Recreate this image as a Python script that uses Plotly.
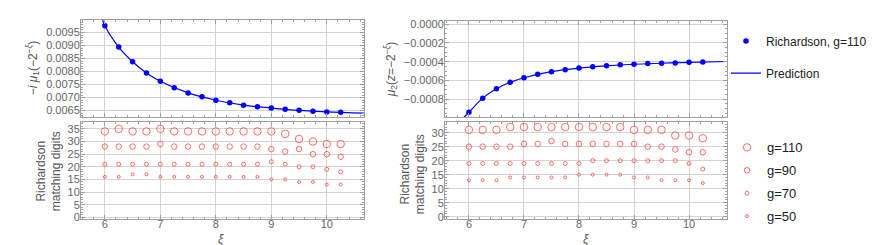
import plotly.graph_objects as go

xi = [6, 6.25, 6.5, 6.75, 7, 7.25, 7.5, 7.75, 8, 8.25, 8.5, 8.75, 9, 9.25, 9.5, 9.75, 10, 10.25]

mu1_rich = [0.00976, 0.00894, 0.00838, 0.00795, 0.00763, 0.00738, 0.00718, 0.00703, 0.00690,
            0.00680, 0.00671, 0.00665, 0.00660, 0.00655, 0.00651, 0.00648, 0.00645, 0.00644]
pred1_xi = [5.95, 6, 6.25, 6.5, 6.75, 7, 7.5, 8, 8.5, 9, 9.5, 10, 10.7]
pred1_mu = [0.01006, 0.00976, 0.00894, 0.00838, 0.00795, 0.00763, 0.00718, 0.00690, 0.00671,
            0.00660, 0.00651, 0.00645, 0.00640]

mu2_rich = [-0.000941, -0.000790, -0.000690, -0.000621, -0.000572, -0.000534, -0.000507, -0.000486,
            -0.000469, -0.000455, -0.000445, -0.000434, -0.000428, -0.000421, -0.000417, -0.000414,
            -0.000407, -0.000403]
pred2_xi = [5.9, 6, 6.25, 6.5, 6.75, 7, 7.5, 8, 8.5, 9, 9.5, 10, 10.7]
pred2_mu = [-0.00100, -0.000941, -0.000790, -0.000690, -0.000621, -0.000572, -0.000507, -0.000469,
            -0.000445, -0.000428, -0.000417, -0.000407, -0.000398]

digits1 = {
    "g=110": [34, 35, 34, 34, 35, 34, 34, 34, 34, 34, 34, 34, 34, 33, 31, 30, 29, 29],
    "g=90":  [28, 28, 28, 28, 29, 28, 28, 28, 28, 28, 28, 28, 27, 26, 27, 25, 25, 24],
    "g=70":  [21, 21, 21, 21, 21, 21, 21, 21, 21, 21, 21, 21, 22, 21, 20, 20, 19, 18],
    "g=50":  [16, 16, 17, 17, 16, 16, 16, 16, 16, 16, 16, 16, 15, 15, 14, 14, 13, 13],
}
digits2 = {
    "g=110": [31, 31, 31, 32, 32, 32, 32, 32, 32, 32, 32, 32, 31, 31, 31, 29, 29, 28],
    "g=90":  [25, 25, 25, 25, 26, 26, 27, 26, 26, 26, 26, 26, 26, 25, 25, 24, 23, 23],
    "g=70":  [19, 19, 19, 19, 19, 19, 19, 19, 19, 20, 20, 20, 20, 20, 20, 20, 19, 17],
    "g=50":  [13, 13, 13, 14, 14, 14, 14, 14, 15, 15, 15, 15, 14, 14, 13, 13, 13, 12],
}
circle_sizes = {"g=110": 7.5, "g=90": 5.5, "g=70": 4, "g=50": 3}

W, H = 877, 245
BLUE = "#0000ff"
RED = "rgba(255,60,60,0.75)"
FRAME = "#a0a0a0"
GRID = "#d4d4d4"
TICKC = "#666666"
FONT = "Liberation Sans, Arial, sans-serif"

fig = go.Figure()

fig.add_trace(go.Scatter(x=pred1_xi, y=pred1_mu, mode="lines", line=dict(color=BLUE, width=1.2, shape="spline"),
                         xaxis="x", yaxis="y", showlegend=False))
fig.add_trace(go.Scatter(x=xi, y=mu1_rich, mode="markers", marker=dict(color=BLUE, size=5.5),
                         xaxis="x", yaxis="y", name="Richardson, g=110", legend="legend", legendgroup="a"))
fig.add_trace(go.Scatter(x=pred2_xi, y=pred2_mu, mode="lines", line=dict(color=BLUE, width=1.2, shape="spline"),
                         xaxis="x3", yaxis="y3", name="Prediction", legend="legend", legendgroup="b"))
fig.add_trace(go.Scatter(x=xi, y=mu2_rich, mode="markers", marker=dict(color=BLUE, size=5.5),
                         xaxis="x3", yaxis="y3", showlegend=False))

for k, vals in digits1.items():
    fig.add_trace(go.Scatter(x=xi, y=vals, mode="markers",
                             marker=dict(symbol="circle-open", size=circle_sizes[k], color=RED, line=dict(width=1)),
                             xaxis="x2", yaxis="y2", name=k, legend="legend2", legendgroup=k))
for k, vals in digits2.items():
    fig.add_trace(go.Scatter(x=xi, y=vals, mode="markers",
                             marker=dict(symbol="circle-open", size=circle_sizes[k], color=RED, line=dict(width=1)),
                             xaxis="x4", yaxis="y4", showlegend=False))

xl = [73 / W, 356 / W]
xr = [437 / W, 719 / W]
ytl = [1 - 109 / H, 1 - 9.3 / H]
ytr = [1 - 109 / H, 1 - 10.7 / H]
yb = [1 - 214 / H, 1 - 114.3 / H]

def ax(**kw):
    d = dict(showline=True, linecolor=FRAME, linewidth=1, mirror="allticks",
             showgrid=True, gridcolor=GRID, gridwidth=1, zeroline=False,
             ticks="inside", ticklen=4, tickcolor=FRAME,
             tickfont=dict(family=FONT, size=11, color=TICKC))
    d.update(kw)
    return d

xcommon = dict(tickvals=[6, 7, 8, 9, 10], ticklabelstandoff=-5,
               minor=dict(ticks="inside", ticklen=2, dtick=0.2, tickcolor=FRAME, showgrid=False))
ycommon = dict(ticklabelstandoff=-2)
fig.update_layout(
    width=W, height=H, margin=dict(l=0, r=0, t=0, b=0),
    paper_bgcolor="white", plot_bgcolor="white",
    xaxis=ax(domain=xl, anchor="y", range=[5.57, 10.67], showticklabels=False, **xcommon),
    xaxis2=ax(domain=xl, anchor="y2", range=[5.57, 10.67], **xcommon),
    xaxis3=ax(domain=xr, anchor="y3", range=[5.565, 10.69], showticklabels=False, **xcommon),
    xaxis4=ax(domain=xr, anchor="y4", range=[5.565, 10.69], **xcommon),
    yaxis=ax(domain=ytl, anchor="x", range=[0.00626, 0.00998], dtick=0.0005, tick0=0, tickformat=".4f",
             minor=dict(ticks="inside", ticklen=2, dtick=0.0001, tickcolor=FRAME, showgrid=False), **ycommon),
    yaxis2=ax(domain=yb, anchor="x2", range=[-0.6, 37.7], dtick=5, tick0=0,
              minor=dict(ticks="inside", ticklen=2, dtick=1, tickcolor=FRAME, showgrid=False), **ycommon),
    yaxis3=ax(domain=ytr, anchor="x3", range=[-0.00099, 0.00003], dtick=0.0002, tick0=0, tickformat=".4f",
              minor=dict(ticks="inside", ticklen=2, dtick=0.00005, tickcolor=FRAME, showgrid=False), **ycommon),
    yaxis4=ax(domain=yb, anchor="x4", range=[-0.8, 33.8], dtick=5, tick0=0,
              minor=dict(ticks="inside", ticklen=2, dtick=1, tickcolor=FRAME, showgrid=False), **ycommon),
    legend=dict(x=718 / W, y=1 - 16 / H, xanchor="left", yanchor="top", tracegroupgap=13,
                font=dict(family=FONT, size=12, color="#222"), itemwidth=30,
                bgcolor="rgba(0,0,0,0)"),
    legend2=dict(x=719 / W, y=1 - 125 / H, xanchor="left", yanchor="top", tracegroupgap=3,
                 font=dict(family=FONT, size=13, color="#222"), itemwidth=30,
                 bgcolor="rgba(0,0,0,0)"),
)

tf = dict(family=FONT, size=12, color="#555555")
ann = [
    dict(x=25 / W, y=1 - 59 / H, text="−<i>i</i> <i>μ</i><sub>1</sub>(−2<sup>−<i>ξ</i></sup>)", textangle=-90),
    dict(x=41 / W, y=1 - 165 / H, text="Richardson<br>matching digits", textangle=-90),
    dict(x=383 / W, y=1 - 60 / H, text="<i>μ</i><sub>2</sub>(<i>z</i>=−2<sup>−<i>ξ</i></sup>)", textangle=-90),
    dict(x=405 / W, y=1 - 168 / H, text="Richardson<br>matching digits", textangle=-90),
    dict(x=213 / W, y=1 - 235 / H, text="<i>ξ</i>"),
    dict(x=578 / W, y=1 - 235 / H, text="<i>ξ</i>"),
]
for a in ann:
    fig.add_annotation(xref="paper", yref="paper", showarrow=False, font=tf, xanchor="center", yanchor="middle", **a)

fig.write_html("out.html")
